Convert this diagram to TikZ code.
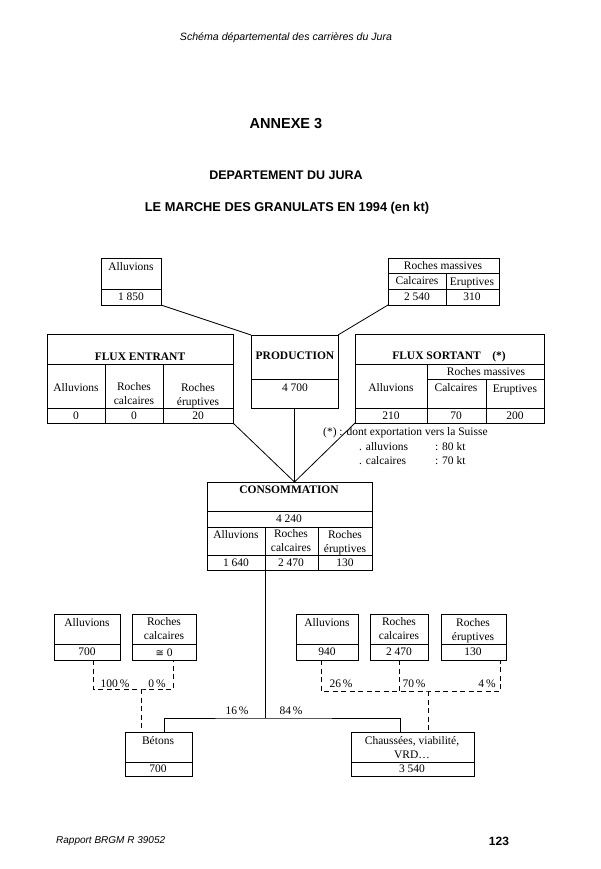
\documentclass[tikz,border=0pt]{standalone}
\usepackage{fontspec}
\setmainfont{Liberation Serif}
\newfontfamily\headfont{Liberation Sans}
\newfontfamily\symbfont{DejaVu Sans}
\usetikzlibrary{positioning, calc}

% case d'un tableau, coins en pixels de la page
\newcommand{\cellat}[5]{%
  \node[cellbox, minimum width={(#4-#2)*1pt}, minimum height={(#5-#3)*1pt}]
    (#1) at ({(#2+#4)/2},{(#3+#5)/2}) {};}

\tikzset{
  cellbox/.style={draw, line width=0.8pt, inner sep=0pt, outer sep=0pt},
  celltxt/.style={inner sep=0pt, align=center, font=\fontsize{11.5}{14}\selectfont},
  boldtxt/.style={inner sep=0pt, align=center, font=\fontsize{11.5}{14}\selectfont\bfseries},
  headtxt/.style={inner sep=0pt, font=\headfont\bfseries\fontsize{12.5}{15}\selectfont},
  link/.style={line width=0.8pt},
  dashlink/.style={line width=0.8pt, dash pattern=on 5pt off 3.5pt},
}

\begin{document}
\begin{tikzpicture}[x=1pt, y=-1pt]
        \useasboundingbox (0,0) rectangle (600,869);

        % en-tete et titres
        \node[inner sep=0pt, font=\headfont\itshape\fontsize{10.6}{12}\selectfont] (schema) at (286,38) {Schéma départemental des carrières du Jura};
        \node[headtxt, font=\headfont\bfseries\fontsize{14.5}{17}\selectfont] (annexe) at (286,124) {ANNEXE 3};
        \node[headtxt] (dept) at (286,175) {DEPARTEMENT DU JURA};
        \node[headtxt, font=\headfont\bfseries\fontsize{12.8}{15}\selectfont] (titre) at (287,208) {LE MARCHE DES GRANULATS EN 1994 (en kt)};

        % production : alluvions et roches massives
        \cellat{alluvT}{101}{258}{161}{305}
        \cellat{alluvT-v}{101}{289}{161}{305}
        \node[celltxt] (alluvT-t) at (131,267) {Alluvions};
        \node[celltxt] (alluvT-n) at (131,297) {1 850};

        \cellat{massT}{388}{258}{499}{305}
        \foreach \a/\b/\n in {388/446/c, 446/499/e} {
            \cellat{massT-\n}{\a}{273}{\b}{289}
            \cellat{massT-\n v}{\a}{289}{\b}{305}
        }
        \node[celltxt] (massT-t) at (443,266) {Roches massives};
        \node[celltxt] (massT-ct) at (417,281) {Calcaires};
        \node[celltxt] (massT-et) at (472,282.5) {Eruptives};
        \node[celltxt] (massT-cn) at (417,297) {2 540};
        \node[celltxt] (massT-en) at (472,297) {310};

        \cellat{prod}{251}{335}{338}{408}
        \cellat{prod-v}{251}{379}{338}{408}
        \node[boldtxt] (prod-t) at (295,356) {PRODUCTION};
        \node[celltxt] (prod-n) at (295,388) {4 700};

        % flux entrant
        \cellat{fluxE}{47}{334}{233}{423}
        \foreach \a/\b/\n in {47/105/a, 105/163/b, 163/233/c} {
            \cellat{fluxE-\n}{\a}{364}{\b}{408}
            \cellat{fluxE-\n v}{\a}{408}{\b}{423}
        }
        \node[boldtxt] (fluxE-t) at (140,357) {FLUX ENTRANT};
        \node[celltxt] (fluxE-at) at (76,388) {Alluvions};
        \node[celltxt] (fluxE-bt) at (134,394) {Roches\\calcaires};
        \node[celltxt] (fluxE-ct) at (198,395.5) {Roches\\éruptives};
        \node[celltxt] (fluxE-an) at (76,416) {0};
        \node[celltxt] (fluxE-bn) at (134,416) {0};
        \node[celltxt] (fluxE-cn) at (198,416) {20};

        % flux sortant
        \cellat{fluxS}{355}{334}{544}{423}
        \cellat{fluxS-a}{355}{364}{427}{408}
        \cellat{fluxS-m}{427}{364}{544}{379}
        \cellat{fluxS-c}{427}{379}{486}{408}
        \cellat{fluxS-e}{486}{379}{544}{408}
        \foreach \a/\b/\n in {355/427/a, 427/486/c, 486/544/e}
            \cellat{fluxS-\n v}{\a}{408}{\b}{423};
        \node[boldtxt] (fluxS-t) at (449,357) {FLUX SORTANT\quad(*)};
        \node[celltxt] (fluxS-mt) at (486,372) {Roches massives};
        \node[celltxt] (fluxS-at) at (391,388) {Alluvions};
        \node[celltxt] (fluxS-ct) at (456,388) {Calcaires};
        \node[celltxt] (fluxS-et) at (515,389.5) {Eruptives};
        \node[celltxt] (fluxS-an) at (391,416) {210};
        \node[celltxt] (fluxS-cn) at (456,416) {70};
        \node[celltxt] (fluxS-en) at (515,416) {200};

        % renvoi (*)
        \node[celltxt, anchor=west] (renvoi) at (323,433) {(*) : dont exportation vers la Suisse};
        \node[celltxt, anchor=west] (renvoi-a) at (359,447) {. alluvions};
        \node[celltxt, anchor=west] (renvoi-an) at (435,447) {: 80 kt};
        \node[celltxt, anchor=west] (renvoi-c) at (359,461) {. calcaires};
        \node[celltxt, anchor=west] (renvoi-cn) at (435,461) {: 70 kt};

        % consommation
        \cellat{conso}{207}{482}{372}{570}
        \cellat{conso-tot}{207}{511}{372}{527}
        \foreach \a/\b/\n in {207/265/a, 265/318/b, 318/372/c} {
            \cellat{conso-\n}{\a}{527}{\b}{555}
            \cellat{conso-\n v}{\a}{555}{\b}{570}
        }
        \node[boldtxt] (conso-t) at (289,490) {CONSOMMATION};
        \node[celltxt] (conso-n) at (289,519) {4 240};
        \node[celltxt] (conso-at) at (236,535) {Alluvions};
        \node[celltxt] (conso-bt) at (291,541) {Roches\\calcaires};
        \node[celltxt] (conso-ct) at (345,542.5) {Roches\\éruptives};
        \node[celltxt] (conso-an) at (236,563) {1 640};
        \node[celltxt] (conso-bn) at (291,563) {2 470};
        \node[celltxt] (conso-cn) at (345,563) {130};

        % liens production -> consommation
        \draw[link] (alluvT.south east) -- (prod.north west);
        \draw[link] (massT.south west) -- (prod.north east);
        \draw[link] (prod.south) -- (prod.south |- conso.north);
        \draw[link] (fluxE.south east) -- (prod.south |- conso.north);
        \draw[link] (fluxS.south west) -- (prod.south |- conso.north);

        % betons
        \cellat{betL-a}{54}{614}{120}{660}
        \cellat{betL-av}{54}{644}{120}{660}
        \cellat{betL-c}{132}{614}{196}{660}
        \cellat{betL-cv}{132}{644}{196}{660}
        \node[celltxt] (betL-at) at (87,623) {Alluvions};
        \node[celltxt] (betL-an) at (87,652) {700};
        \node[celltxt] (betL-ct) at (164,629) {Roches\\calcaires};
        \node[celltxt] (betL-cn) at (164,652.5) {{\symbfont\fontsize{10}{12}\selectfont ≅}~0};

        % chaussees
        \foreach \a/\b/\n in {296/358/a, 370/428/c, 441/506/e} {
            \cellat{chR-\n}{\a}{614}{\b}{660}
            \cellat{chR-\n v}{\a}{644}{\b}{660}
        }
        \node[celltxt] (chR-at) at (327,623) {Alluvions};
        \node[celltxt] (chR-an) at (327,652) {940};
        \node[celltxt] (chR-ct) at (399,629) {Roches\\calcaires};
        \node[celltxt] (chR-cn) at (399,652) {2 470};
        \node[celltxt] (chR-et) at (473,630.5) {Roches\\éruptives};
        \node[celltxt] (chR-en) at (473,652) {130};

        \cellat{beton}{125}{732}{192}{776}
        \cellat{beton-v}{125}{762}{192}{776}
        \node[celltxt] (beton-t) at (158,741) {Bétons};
        \node[celltxt] (beton-n) at (158,769) {700};

        \cellat{chaus}{351}{732}{474}{776}
        \cellat{chaus-v}{351}{762}{474}{776}
        \node[celltxt] (chaus-t) at (412,748) {Chaussées, viabilité,\\VRD\ldots};
        \node[celltxt] (chaus-n) at (412,769) {3 540};

        % repartition de la consommation
        \coordinate (split) at (265,718);
        \draw[link] (conso-av.south east) -- (split);
        \draw[link] ([xshift=5.5pt]beton.north) |- (split) -| ([xshift=-12.5pt]chaus.north);
        \node[celltxt] (pct16) at (237,711) {16\,\%};
        \node[celltxt] (pct84) at (291,711) {84\,\%};

        % parts des materiaux (tirets)
        \coordinate (jL) at (141,689);
        \draw[dashlink] ([xshift=6pt]betL-av.south) |- (jL) -| ([xshift=9pt]betL-cv.south);
        \draw[dashlink] (jL) -- (jL |- beton.north);
        \coordinate (jR) at (428,691);
        \draw[dashlink] ([xshift=-6pt]chR-av.south) |- (jR) -| ([xshift=27pt]chR-ev.south);
        \draw[dashlink] (chR-cv.south) -- (chR-cv.south |- jR);
        \draw[dashlink] (jR) -- (jR |- chaus.north);
        \node[celltxt] (pct100) at (115,684) {100\,\%};
        \node[celltxt] (pct0) at (157,684) {0\,\%};
        \node[celltxt] (pct26) at (341,684) {26\,\%};
        \node[celltxt] (pct70) at (414,684) {70\,\%};
        \node[celltxt] (pct4) at (487,684) {4\,\%};

        % pied de page
        \node[inner sep=0pt, anchor=west, font=\headfont\itshape\fontsize{10}{12}\selectfont] (rapport) at (56,841) {Rapport BRGM R 39052};
        \node[headtxt, font=\headfont\bfseries\fontsize{12}{14}\selectfont] (page) at (499,841) {123};

    \end{tikzpicture}
\end{document}
